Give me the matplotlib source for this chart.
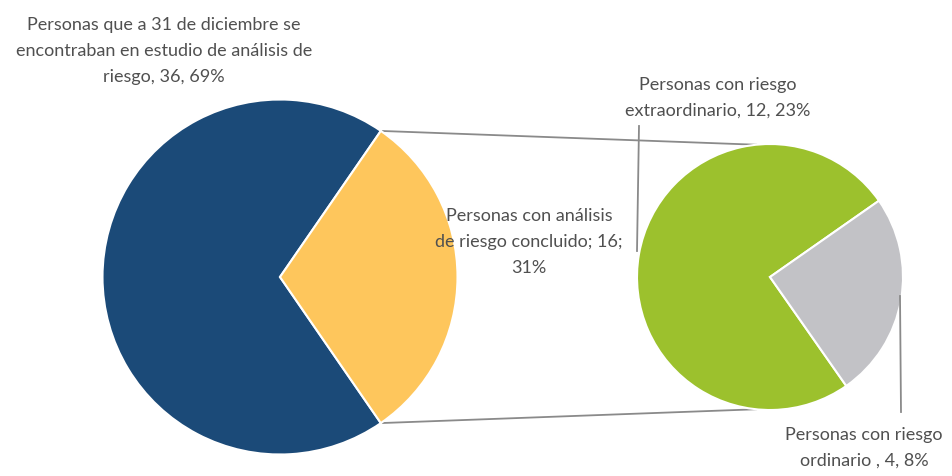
import numpy as np
import matplotlib.pyplot as plt

# data
main_labels = ["Personas que a 31 de diciembre se\nencontraban en estudio de análisis de\nriesgo, 36, 69%",
               "Personas con análisis\nde riesgo concluido; 16;\n31%"]
main_values = [36, 16]
sub_labels = ["Personas con riesgo\nextraordinario, 12, 23%",
              "Personas con riesgo\nordinario , 4, 8%"]
sub_values = [12, 4]

main_colors = ["#1b4a78", "#fec65c"]
sub_colors = ["#9cc12d", "#c2c2c6"]
text_color = "#505050"
line_color = "#8a8a8a"

W, H = 953, 477
fig = plt.figure(figsize=(W / 100, H / 100), dpi=100)
ax = fig.add_axes([0, 0, 1, 1])

plt.rcParams["font.family"] = ["Lato", "DejaVu Sans"]

# big pie
c1 = (280, H - 278)
r1 = 177.5
start1 = 180 * main_values[1] / sum(main_values)
ax.pie(main_values, colors=main_colors, center=c1, radius=r1, startangle=start1,
       wedgeprops=dict(edgecolor="white", linewidth=1.5), frame=True)

# small pie
c2 = (770, H - 278)
r2 = 133
ax.pie(sub_values, colors=sub_colors, center=c2, radius=r2, startangle=35,
       wedgeprops=dict(edgecolor="white", linewidth=1.5), frame=True)
ax.set_xlim(0, W)
ax.set_ylim(0, H)
ax.set_aspect("equal")
ax.axis("off")

# connecting lines
for sgn in (1, -1):
    a1 = np.deg2rad(sgn * start1)
    a2 = np.deg2rad(sgn * 96)
    p1 = (c1[0] + r1 * np.cos(a1), c1[1] + r1 * np.sin(a1))
    p2 = (c2[0] + r2 * np.cos(a2), c2[1] + r2 * np.sin(a2))
    ax.plot([p1[0], p2[0]], [p1[1], p2[1]], color=line_color, lw=1.3, zorder=0)

# leader lines
ax.plot([639, 637], [H - 127, H - 252], color=line_color, lw=1.3)
ax.plot([900, 901], [H - 297, H - 413], color=line_color, lw=1.3)

fs = 13
kw = dict(ha="center", va="center", color=text_color, fontsize=fs, linespacing=1.78)
ax.text(164, H - 51, main_labels[0], **kw)
ax.text(529, H - 242, main_labels[1], **kw)
ax.text(718, H - 98, sub_labels[0], **kw)
ax.text(864, H - 448, sub_labels[1], **kw)

fig.savefig("out.png", dpi=100, facecolor="white")
